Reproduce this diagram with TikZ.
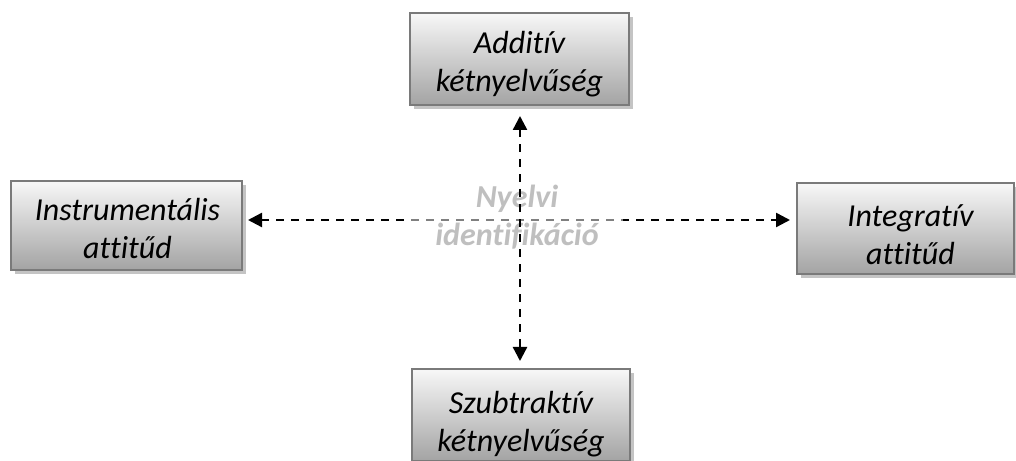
\documentclass[tikz,border=0pt]{standalone}
\usepackage{fontspec}
\setmainfont{Carlito}[Ligatures=NoCommon]
\usetikzlibrary{arrows.meta,shadows,calc}
\definecolor{boxborder}{HTML}{7A7A7A}
\definecolor{boxshadow}{HTML}{C4C4C4}
\definecolor{midtext}{HTML}{BFBFBF}
\begin{document}
\begin{tikzpicture}[x=1pt,y=1pt,
  box/.style={draw=boxborder, line width=2pt, top color=white!97!black, bottom color=black!36,
    inner sep=0pt,
    drop shadow={shadow xshift=4pt, shadow yshift=-4pt, fill=boxshadow, opacity=1}},
  boxtext/.style={align=center, inner sep=0pt, font=\itshape\fontsize{32}{38}\selectfont},
  arr/.style={line width=2.4pt, dash pattern=on 8pt off 7pt, {Triangle[length=14pt,width=14pt]}-{Triangle[length=14pt,width=14pt]}},
  midlabel/.style={align=center, text=midtext, font=\bfseries\itshape\fontsize{32}{38}\selectfont, inner sep=0pt}
]
\useasboundingbox (0,0) rectangle (1016,460);
\node[box, minimum width=219pt, minimum height=92pt] (top) at (519.5,401) {};
\node[box, minimum width=231pt, minimum height=89pt] (left) at (126.5,234.5) {};
\node[box, minimum width=217pt, minimum height=91pt] (right) at (905.5,231.5) {};
\node[box, minimum width=218pt, minimum height=92pt] (bottom) at (521,45) {};
\node[boxtext] (toptext) at ($(top.center)+(0,-5)$) {Additív\\kétnyelvűség};
\node[boxtext] (lefttext) at ($(left.center)+(1,-3.5)$) {Instrumentális\\attitűd};
\node[boxtext] (righttext) at ($(right.center)+(5,-6.5)$) {Integratív\\attitűd};
\node[boxtext] (bottomtext) at ($(bottom.center)+(0,-9)$) {Szubtraktív\\kétnyelvűség};
\coordinate (mid) at (520,240);
\draw[arr, shorten <=5pt, shorten >=6pt] (left.east |- mid) -- (right.west |- mid);
\fill[white, opacity=0.5] (408,228) rectangle (623,252);
\node[midlabel] (lbl) at (517,243) {Nyelvi\\identifikáció};
\draw[arr, shorten <=10pt, shorten >=7pt] (top.south -| mid) -- (bottom.north -| mid);
\end{tikzpicture}
\end{document}
